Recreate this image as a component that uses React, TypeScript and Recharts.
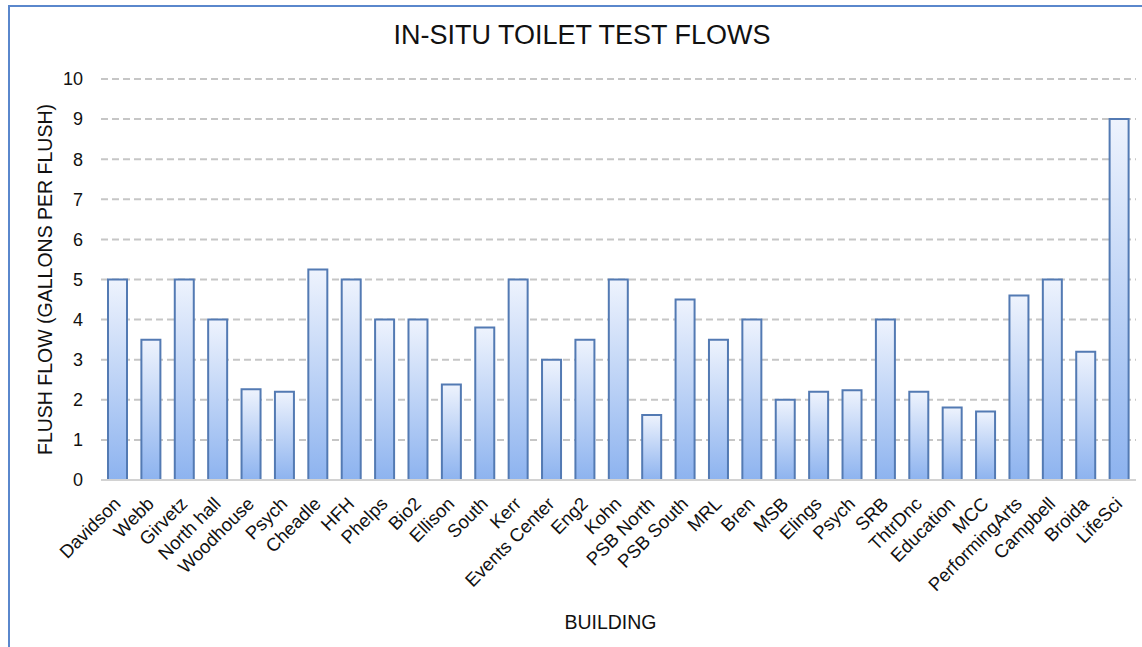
import React from 'react';
import { BarChart, Bar, XAxis, YAxis, CartesianGrid } from 'recharts';

const buildings = [
  'Davidson', 'Webb', 'Girvetz', 'North hall', 'Woodhouse', 'Psych', 'Cheadle', 'HFH',
  'Phelps', 'Bio2', 'Ellison', 'South', 'Kerr', 'Events Center', 'Eng2', 'Kohn',
  'PSB North', 'PSB South', 'MRL', 'Bren', 'MSB', 'Elings', 'Psych', 'SRB',
  'ThtrDnc', 'Education', 'MCC', 'PerformingArts', 'Campbell', 'Broida', 'LifeSci',
];

const flushFlow = [
  5, 3.5, 5, 4, 2.26, 2.2, 5.25, 5,
  4, 4, 2.38, 3.8, 5, 3, 3.5, 5,
  1.62, 4.5, 3.5, 4, 2, 2.2, 2.24, 4,
  2.2, 1.81, 1.71, 4.6, 5, 3.2, 9,
];

const yTicks = [0, 1, 2, 3, 4, 5, 6, 7, 8, 9, 10];

const FONT = '"Liberation Sans", Arial, Helvetica, sans-serif';
const INK = '#111';

const chartData = buildings.map((name, i) => ({ name, flow: flushFlow[i] }));

// rotated category labels, text end sits just right of the bar centre
const BuildingTick = ({ x, y, payload }: any) => (
  <g transform={`translate(${x + 4},${y + 25})`}>
    <text
      transform="rotate(-45)"
      textAnchor="end"
      fontSize={18.5}
      fontFamily={FONT}
      fill={INK}
    >
      {payload.value}
    </text>
  </g>
);

export default function App() {
  return (
    <div style={{ position: 'absolute', left: 0, top: 0, width: 1142, height: 647, background: '#fff', overflow: 'hidden' }}>
      <div
        style={{
          position: 'absolute', left: 8, top: 5, width: 1200, height: 700,
          borderTop: '2px solid #5a87cc', borderLeft: '2px solid #5a87cc',
        }}
      />
      <div
        style={{
          position: 'absolute', left: 0, top: 22, width: 1164, textAlign: 'center',
          fontFamily: FONT, fontSize: 27, lineHeight: '27px', color: INK,
        }}
      >
        IN-SITU TOILET TEST FLOWS
      </div>
      <BarChart
        width={1142}
        height={647}
        data={chartData}
        margin={{ top: 79, right: 6, bottom: 67, left: 61 }}
        style={{ position: 'absolute', left: 0, top: 0 }}
      >
        <defs>
          <linearGradient id="barFill" x1="0" y1="0" x2="0" y2="1">
            <stop offset="0%" stopColor="#eef3fd" />
            <stop offset="100%" stopColor="#8db3ef" />
          </linearGradient>
        </defs>
        <CartesianGrid vertical={false} stroke="#c6c6c6" strokeWidth={2} strokeDasharray="7 4" />
        <XAxis
          dataKey="name"
          interval={0}
          height={100}
          tickLine={false}
          tickSize={0}
          tickMargin={0}
          axisLine={{ stroke: '#d2d2d2', strokeWidth: 2 }}
          tick={<BuildingTick />}
          label={{
            value: 'BUILDING', position: 'bottom', offset: 35, dx: -8,
            style: { fontSize: 19.5, fontFamily: FONT, fill: INK },
          }}
        />
        <YAxis
          width={40}
          domain={[0, 10]}
          ticks={yTicks}
          axisLine={false}
          tickLine={false}
          tickMargin={12}
          tick={{ fontSize: 18, fontFamily: FONT, fill: INK }}
          label={{
            value: 'FLUSH FLOW (GALLONS PER FLUSH)', angle: -90, position: 'center', dx: -36,
            style: { fontSize: 19.5, fontFamily: FONT, fill: INK },
          }}
        />
        <Bar
          dataKey="flow"
          barSize={19}
          fill="url(#barFill)"
          stroke="#537ab3"
          strokeWidth={2}
          isAnimationActive={false}
        />
      </BarChart>
    </div>
  );
}
